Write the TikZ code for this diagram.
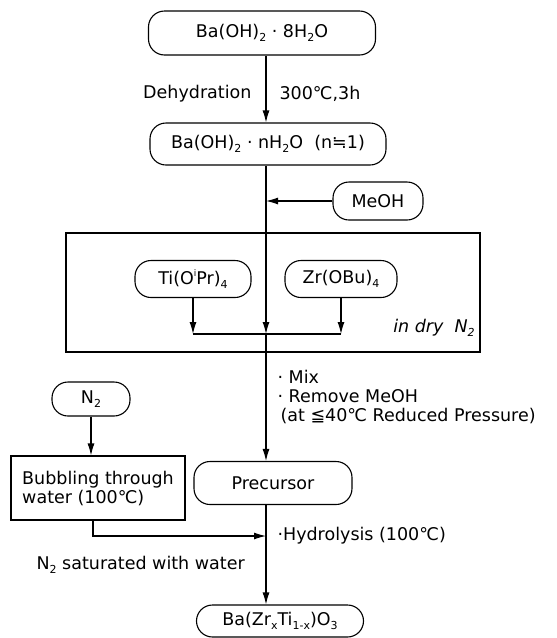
\documentclass[tikz,border=0pt]{standalone}
\usepackage{fontspec}
\setmainfont{DejaVu Sans}
\usetikzlibrary{arrows.meta}
\newcommand{\sbs}[1]{\raisebox{-0.35ex}{\fontsize{11}{11}\selectfont #1}}
\newcommand{\sps}[1]{\raisebox{0.85ex}{\fontsize{9}{9}\selectfont #1}}
\begin{document}
\begin{tikzpicture}[x=1pt,y=-1pt,
    font=\fontsize{17.5}{19}\selectfont,
    line width=1.1pt,
    pill/.style={draw,rounded corners=16pt,inner sep=0pt},
    sq/.style={draw,inner sep=0pt},
    arr/.style={-{Latex[length=12pt,width=7pt]}},
    lab/.style={inner sep=0pt}]
  \useasboundingbox (0,0) rectangle (557,638);

  % Idrossido di bario
  \node[pill,minimum width=227pt,minimum height=44pt] (hyd8) at (262,33) {Ba(OH)\sbs{2} · 8H\sbs{2}O};
  \node[pill,minimum width=236pt,minimum height=42pt] (hyd1) at (268,144) {Ba(OH)\sbs{2} · nH\sbs{2}O\ \ (n≒1)};
  \node[lab,anchor=east] (dehy) at (252,94) {Dehydration};
  \node[lab,anchor=west] (cond) at (279,94) {300℃,3h};
  \node[pill,minimum width=90pt,minimum height=38pt] (meoh) at (378,201) {MeOH};

  % Alcossidi in N2 secco
  \node[sq,minimum width=414pt,minimum height=119pt] (dry) at (273,292.5) {};
  \node[pill,minimum width=116pt,minimum height=37pt] (ti) at (193,279) {Ti(O\sps{i}Pr)\sbs{4}};
  \node[pill,minimum width=112pt,minimum height=37pt] (zr) at (341,279) {Zr(OBu)\sbs{4}};
  \node[lab,font=\fontsize{17.5}{19}\selectfont\itshape] (drylab) at (434,328) {in dry\ \ N\sbs{2}};
  \coordinate (mix) at (266,334);

  \node[lab,anchor=north west,align=left] (steps) at (277,370) {· Mix\\· Remove MeOH\\\hspace{3pt}(at ≦40℃ Reduced Pressure)};

  % Azoto saturo d'acqua
  \node[pill,minimum width=78pt,minimum height=34pt] (n2) at (91,399) {N\sbs{2}};
  \node[sq,minimum width=174pt,minimum height=64pt,align=left] (bub) at (98,488) {Bubbling through\\water (100℃)};
  \node[pill,minimum width=158pt,minimum height=43pt] (prec) at (273,483) {Precursor};
  \coordinate (hyd) at (266,536);
  \node[lab,anchor=west] (hydlab) at (277,536) {·Hydrolysis (100℃)};
  \node[lab,anchor=west] (satlab) at (36,565) {N\sbs{2} saturated with water};

  % Prodotto
  \node[pill,minimum width=167pt,minimum height=32pt] (fin) at (280,621) {Ba(Zr\sbs{x}Ti\sbs{1-x})O\sbs{3}};

  \draw[arr] (hyd8.south -| mix) -- (hyd1.north -| mix);
  \draw[arr] (hyd1.south -| mix) -- (mix);
  \draw[arr] (meoh.west) -- (meoh.west -| mix);
  \draw[arr] (ti.south) -- (ti.south |- mix);
  \draw[arr] (zr.south) -- (zr.south |- mix);
  \draw (ti.south |- mix) -- (zr.south |- mix);
  \draw[arr] (mix) -- (prec.north -| mix);
  \draw[arr] (n2) -- (n2 |- bub.north);
  \draw[arr] ([xshift=-5pt]bub.south) |- (hyd);
  \draw[arr] (prec.south -| mix) -- (fin.north -| mix);
\end{tikzpicture}
\end{document}
